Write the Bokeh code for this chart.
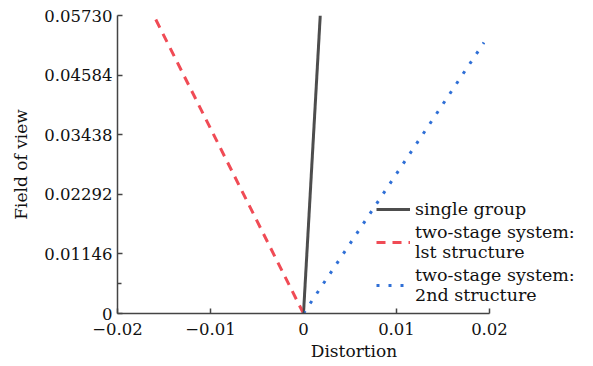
from bokeh.plotting import figure
from bokeh.models import Legend, LegendItem, FixedTicker
from bokeh.embed import file_html
from bokeh.resources import INLINE

# data
single_x = [0.0, 0.0018]
single_y = [0.0, 0.0573]
stage1_x = [0.0, -0.0161]
stage1_y = [0.0, 0.0573]
stage2_x = [0.0, 0.0194]
stage2_y = [0.0, 0.0521]
x_ticks = [-0.02, -0.01, 0.0, 0.01, 0.02]
x_tick_labels = {-0.02: "\u22120.02", -0.01: "\u22120.01", 0.0: "0", 0.01: "0.01", 0.02: "0.02"}
y_ticks = [0.0, 0.01146, 0.02292, 0.03438, 0.04584, 0.05730]
y_minor_ticks = [0.00573]
y_tick_labels = {0.0: "0", 0.01146: "0.01146", 0.02292: "0.02292", 0.03438: "0.03438",
                 0.04584: "0.04584", 0.0573: "0.05730"}

FONT = "DejaVu Serif"

W, H = 590, 364
frame_left = 117
frame_top = 15
frame_bottom = 313
frame_w = W - frame_left
x_end = -0.02 + 0.04 * frame_w / 372.0

p = figure(width=W, height=H, output_backend="svg", toolbar_location=None,
           x_range=(-0.02, x_end), y_range=(0.0, 0.0573),
           min_border_left=frame_left, min_border_right=0, min_border_top=frame_top,
           min_border_bottom=H - frame_bottom)
p.outline_line_color = None
p.grid.grid_line_color = None
p.background_fill_color = "white"

r1 = p.line(single_x, single_y, line_color="#4d4d4d", line_width=3)
r2 = p.line(stage1_x, stage1_y, line_color="#f04b55", line_width=3, line_dash="9 7")
r3 = p.line(stage2_x, stage2_y, line_color="#2f6fd6", line_width=3, line_dash="3 9")

for ax in (p.xaxis[0], p.yaxis[0]):
    ax.axis_line_color = "#444444"
    ax.axis_line_width = 1.5
    ax.major_tick_line_color = "#444444"
    ax.major_tick_line_width = 1.5
    ax.major_tick_in = 5
    ax.major_tick_out = 0
    ax.minor_tick_line_color = None
    ax.major_label_text_font = FONT
    ax.major_label_text_font_size = "16.5px"
    ax.major_label_text_color = "#111111"
    ax.axis_label_text_font = FONT
    ax.axis_label_text_font_size = "17px"
    ax.axis_label_text_font_style = "normal"
    ax.axis_label_text_color = "#111111"

p.xaxis.bounds = (-0.02, 0.02)
p.xaxis.ticker = FixedTicker(ticks=x_ticks)
p.xaxis.major_label_overrides = x_tick_labels
p.xaxis.axis_label = "Distortion"
p.xaxis.axis_label_standoff = 3
p.xaxis.major_label_standoff = 9
p.yaxis.ticker = FixedTicker(ticks=y_ticks, minor_ticks=y_minor_ticks)
p.yaxis.minor_tick_line_color = "#444444"
p.yaxis.minor_tick_line_width = 1.5
p.yaxis.minor_tick_in = 4
p.yaxis.minor_tick_out = 0
p.yaxis.major_label_overrides = y_tick_labels
p.yaxis.axis_label = "Field of view"
p.yaxis.major_label_standoff = 5
p.yaxis.axis_label_standoff = 10

legend = Legend(items=[
    LegendItem(label="single group", renderers=[r1]),
    LegendItem(label="two-stage system:\nlst structure", renderers=[r2]),
    LegendItem(label="two-stage system:\n2nd structure", renderers=[r3]),
], location=(259, 8))
legend.background_fill_alpha = 0
legend.border_line_color = None
legend.label_text_font = FONT
legend.label_text_font_size = "17.5px"
legend.label_text_color = "#111111"
legend.label_text_line_height = 1.15
legend.glyph_width = 34
legend.label_standoff = 5
legend.spacing = 3
legend.padding = 0
legend.margin = 0
p.add_layout(legend, "center")

open("out.html", "w").write(file_html(p, INLINE))
